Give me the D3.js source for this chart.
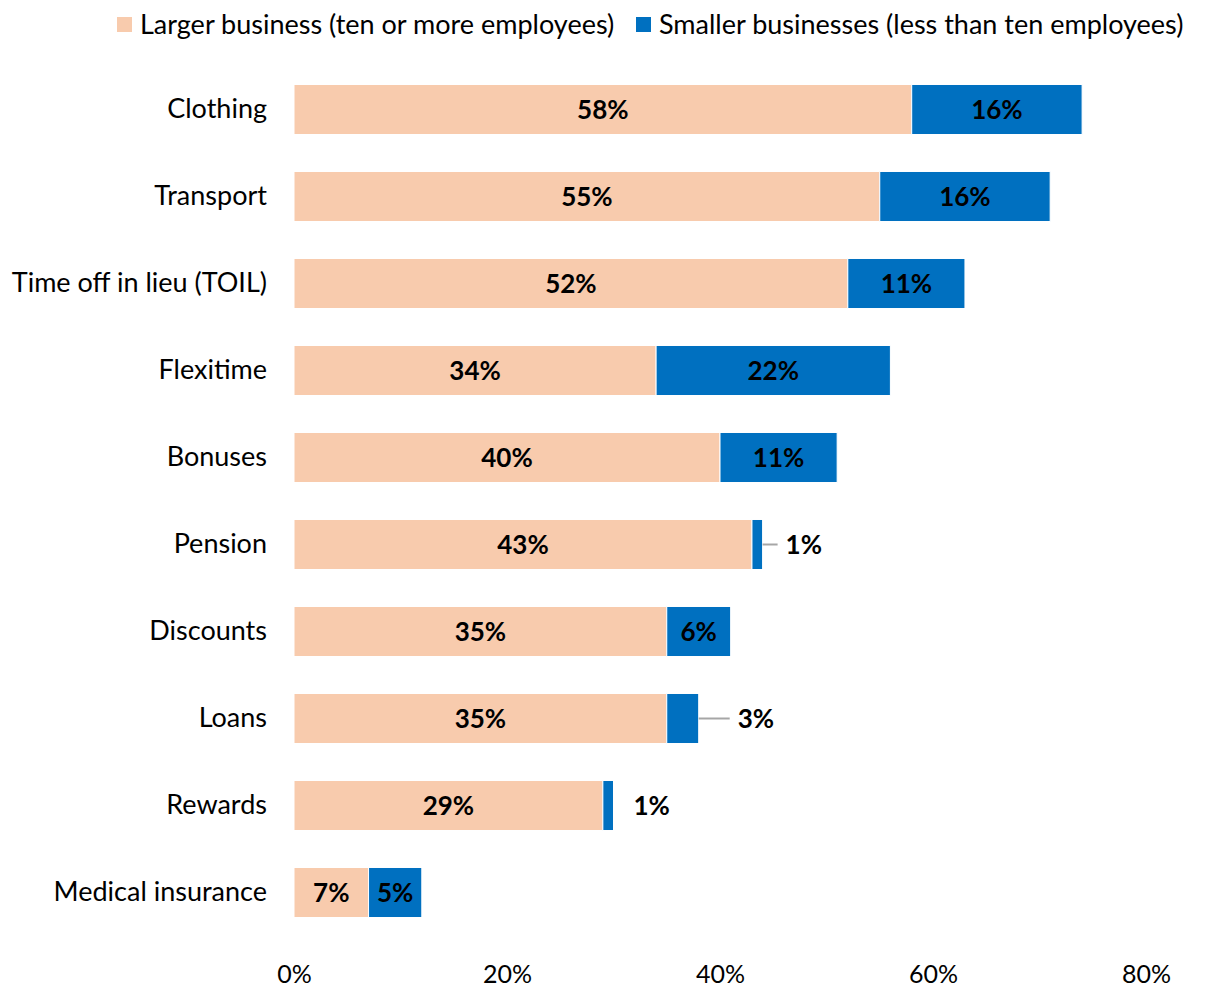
<!DOCTYPE html>
<html>
<head>
<meta charset="utf-8">
<script src="https://cdn.jsdelivr.net/npm/d3@7"></script>
<style>
  html, body { margin: 0; padding: 0; background: #fff; }
  svg text { font-family: Lato, "Open Sans", sans-serif; }
</style>
</head>
<body>
<svg id="chart" width="1207" height="987"></svg>
<script>
// Share of businesses offering each benefit, split by business size (%)
const categories = ["Clothing", "Transport", "Time off in lieu (TOIL)", "Flexitime", "Bonuses",
                    "Pension", "Discounts", "Loans", "Rewards", "Medical insurance"];
const larger  = [58, 55, 52, 34, 40, 43, 35, 35, 29, 7];
const smaller = [16, 16, 11, 22, 11, 1, 6, 3, 1, 5];
const seriesNames = ["Larger business (ten or more employees)", "Smaller businesses (less than ten employees)"];
const tickValues = [0, 20, 40, 60, 80];

// Labels for the small segments sit outside the bar; some get a leader line
const outsideLabel = [false, false, false, false, false, true, false, true, true, false];
const leaderLine   = [false, false, false, false, false, true, false, true, false, false];

const colors = ["#F8CBAD", "#0070C0"];
const svg = d3.select("#chart");

const x = d3.scaleLinear().domain([0, 80]).range([294, 1146]);
const y = d3.scaleBand().domain(categories).range([66, 936]).paddingInner(0.425).paddingOuter(0.2125);

const rows = categories.map((c, i) => ({ cat: c, a: larger[i], b: smaller[i], out: outsideLabel[i], lead: leaderLine[i] }));

// Bars
const g = svg.append("g");
const row = g.selectAll("g.row").data(rows).join("g").attr("class", "row");

row.append("rect")
  .attr("x", d => x(0))
  .attr("y", d => y(d.cat))
  .attr("width", d => x(d.a) - x(0))
  .attr("height", y.bandwidth())
  .attr("fill", colors[0])
  .attr("stroke", "#fff").attr("stroke-width", 1);

row.append("rect")
  .attr("x", d => x(d.a))
  .attr("y", d => y(d.cat))
  .attr("width", d => x(d.a + d.b) - x(d.a))
  .attr("height", y.bandwidth())
  .attr("fill", colors[1])
  .attr("stroke", "#fff").attr("stroke-width", 1);

// Value labels
const valueSize = 26;
const mid = d => y(d.cat) + y.bandwidth() / 2;
row.append("text")
  .attr("x", d => (x(0) + x(d.a)) / 2)
  .attr("y", mid)
  .attr("dy", "0.36em")
  .attr("text-anchor", "middle")
  .attr("font-size", valueSize).attr("font-weight", "bold").attr("fill", "#000")
  .text(d => d.a + "%");

row.filter(d => !d.out).append("text")
  .attr("x", d => (x(d.a) + x(d.a + d.b)) / 2)
  .attr("y", mid)
  .attr("dy", "0.36em")
  .attr("text-anchor", "middle")
  .attr("font-size", valueSize).attr("font-weight", "bold").attr("fill", "#000")
  .text(d => d.b + "%");

row.filter(d => d.out).append("text")
  .attr("x", d => x(d.a + d.b) + (d.lead ? (d.b > 2 ? 39 : 23) : 20))
  .attr("y", mid)
  .attr("dy", "0.36em")
  .attr("text-anchor", "start")
  .attr("font-size", valueSize).attr("font-weight", "bold").attr("fill", "#000")
  .text(d => d.b + "%");

row.filter(d => d.lead).append("line")
  .attr("x1", d => x(d.a + d.b))
  .attr("x2", d => x(d.a + d.b) + (d.b > 2 ? 31 : 15))
  .attr("y1", mid).attr("y2", mid)
  .attr("stroke", "#A6A6A6").attr("stroke-width", 2);

// Category axis
const yAxis = svg.append("g")
  .attr("transform", "translate(294,0)")
  .call(d3.axisLeft(y).tickSize(0).tickPadding(27));
yAxis.select(".domain").remove();
yAxis.selectAll("text").attr("font-size", 27).attr("fill", "#000")
  .style("font-family", "Lato, 'Open Sans', sans-serif");

// Value axis
const xAxis = svg.append("g")
  .attr("transform", "translate(0,957)")
  .call(d3.axisBottom(x).tickValues(tickValues).tickFormat(d => d + "%").tickSize(0).tickPadding(8));
xAxis.select(".domain").remove();
xAxis.selectAll("text").attr("font-size", 25).attr("fill", "#000")
  .style("font-family", "Lato, 'Open Sans', sans-serif");

// Legend
const legend = svg.append("g");
const legX = [117, 636];
seriesNames.forEach((name, i) => {
  legend.append("rect").attr("x", legX[i]).attr("y", 17).attr("width", 15).attr("height", 15).attr("fill", colors[i]);
  legend.append("text").attr("x", legX[i] + 23).attr("y", 34)
    .attr("font-size", 27).attr("fill", "#000").text(name);
});
</script>
</body>
</html>
